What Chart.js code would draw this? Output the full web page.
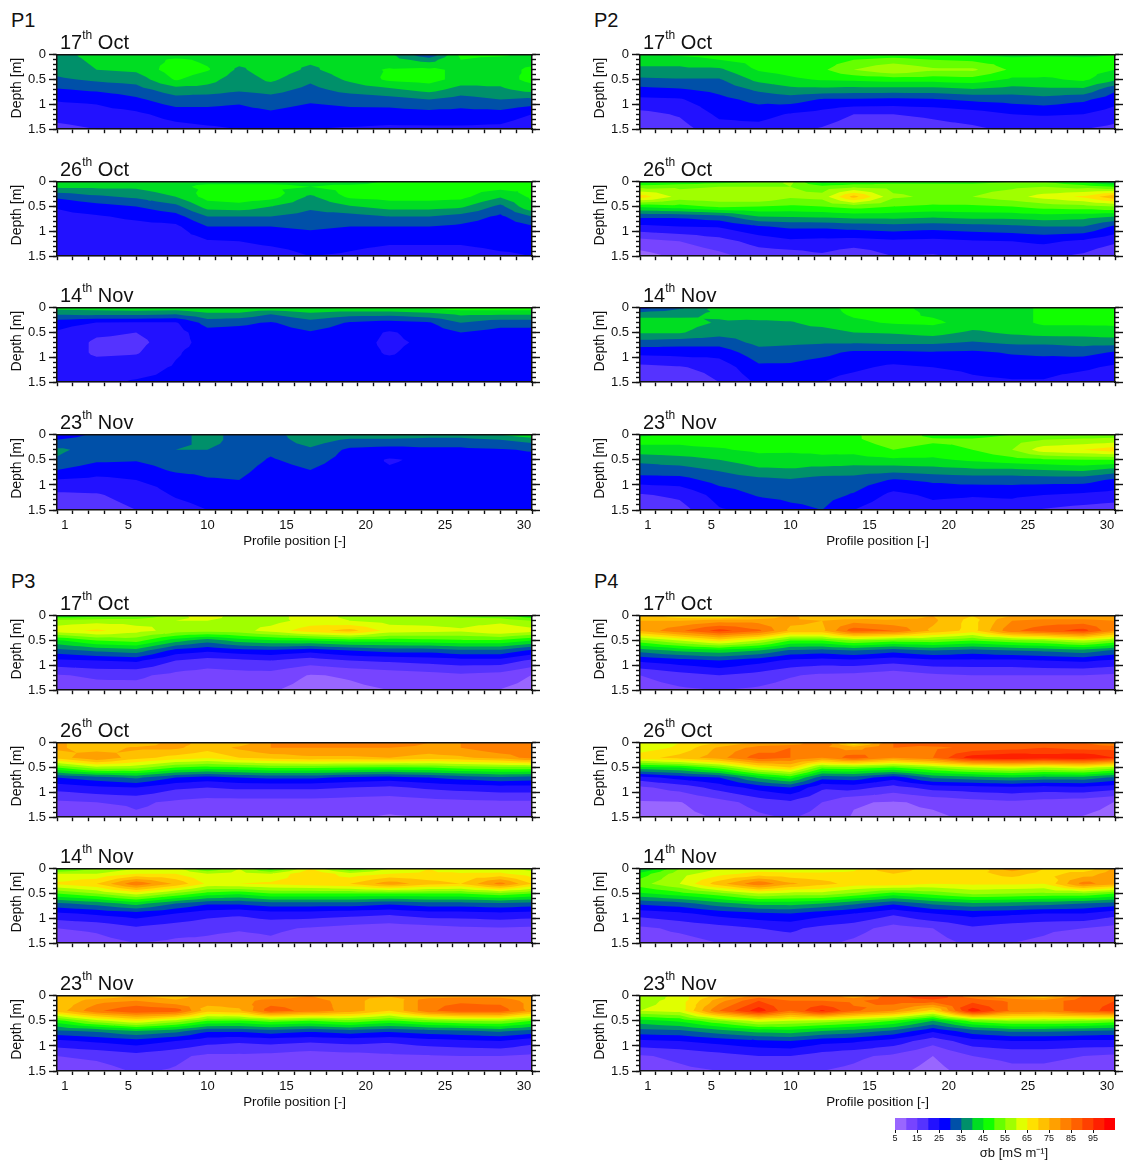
<!DOCTYPE html>
<html>
<head>
<meta charset="utf-8">
<title>Bulk conductivity profiles</title>
<script src="https://cdn.jsdelivr.net/npm/chart.js@4"></script>
<style>
  html, body { margin: 0; padding: 0; background: #fff; }
  body { position: relative; width: 1123px; height: 1164px; overflow: hidden; font-family: "Liberation Sans", Arial, sans-serif; color: #111; }
  canvas { position: absolute; }
  .site { position: absolute; font-size: 20px; line-height: 20px; }
  .date { position: absolute; font-size: 20px; line-height: 20px; white-space: nowrap; }
  .date sup { font-size: 12px; line-height: 0; position: relative; top: -2px; vertical-align: super; }
</style>
</head>
<body>
<script>
// profile positions and depths of the grid columns / rows
const positions = [0.5, 3, 5.5, 8, 10, 12, 14, 16.5, 19, 21.5, 24, 26, 28.5, 30.5];
const depths = [0, 0.1, 0.3, 0.5, 0.7, 0.9, 1.2, 1.5];
const levels = [5, 10, 15, 20, 25, 30, 35, 40, 45, 50, 55, 60, 65, 70, 75, 80, 85, 90, 95, 100];
const levelColors = ['#9966ff', '#7744ff', '#5533ff', '#2211ff', '#0000ff', '#0050a8', '#00906a', '#00dd22', '#11ff00', '#66ff00',
  '#a0ff00', '#e0ff00', '#ffe000', '#ffc000', '#ffa000', '#ff8000', '#ff6000', '#ff4000', '#ff2000', '#ff0000'];
const xLabelTicks = [1, 5, 10, 15, 20, 25, 30];
const depthTicks = [0, 0.5, 1, 1.5];
const legendTicks = [5, 15, 25, 35, 45, 55, 65, 75, 85, 95];
const dates = [['17', 'Oct'], ['26', 'Oct'], ['14', 'Nov'], ['23', 'Nov']];

// one line per profile position, values per depth (mS/m)
const p1_17oct = [
  [38, 38, 37, 34, 29.5, 25.5, 22, 18.5],
  [42, 41, 40, 36, 31, 26, 23, 20],
  [42, 42, 41, 37, 33, 29, 24, 21],
  [42, 46, 48, 45.5, 38, 33, 27, 23],
  [42, 44, 45.5, 42, 38, 32, 28, 24],
  [42, 42, 39, 37, 36, 31, 28, 25],
  [42, 42, 43, 41, 37, 33, 29, 26],
  [42, 41, 39, 36, 33.5, 31, 27, 25],
  [42, 42, 43, 41, 37, 32, 28, 24.5],
  [41, 42, 45.5, 46, 39, 33, 27.5, 24],
  [31, 38, 46, 47, 42, 35, 28, 24],
  [46, 45, 44, 43, 38, 33, 28, 24],
  [46, 43, 43, 42, 39, 35, 28, 23.5],
  [43, 43, 46, 47, 42, 34, 25, 21]
];
const p1_26oct = [
  [44, 41, 31, 25.5, 23.5, 22, 21, 20],
  [44, 41, 34, 28, 24.5, 23, 22, 21],
  [44, 41, 36, 30, 26, 23.5, 22, 21],
  [44, 44, 40, 33.5, 28, 24, 22, 21],
  [44, 46, 47, 42, 35, 30, 24.5, 22],
  [44, 46, 48, 43, 35, 30, 25, 22.5],
  [44, 46, 47, 40, 35, 30, 26, 23],
  [44, 45, 39, 36, 33, 31, 27, 25],
  [42, 47, 46, 39.5, 33, 30, 26, 24.5],
  [46, 47, 47, 42, 35, 30, 25.5, 23.5],
  [46, 47, 47, 42, 35, 30, 25.5, 23.5],
  [47, 47, 46.5, 41, 33, 29, 25.5, 23.5],
  [47, 47, 40.5, 33.5, 29, 27, 26, 24.5],
  [46, 46, 46, 44.5, 35, 29.5, 26, 25]
];
const p1_14nov = [
  [42, 37, 27, 24.5, 24, 24, 24, 24],
  [42, 38, 24.9, 21, 19, 19, 22.5, 24],
  [43, 38, 24.5, 20, 18.5, 19.5, 23, 25.5],
  [43, 37, 24.5, 23, 23, 24.5, 25.5, 26],
  [44, 40, 32, 28, 27, 27, 27, 27],
  [44, 40, 31, 28, 27, 27, 27, 27],
  [45, 36, 29.5, 27.5, 27, 27, 27, 27],
  [45, 40, 33, 29.5, 27, 27, 27, 27],
  [46, 38, 29.5, 27.5, 27, 27, 27, 27],
  [46, 38, 28, 24.5, 24, 24.5, 27, 27],
  [46, 40, 29.5, 27, 26, 27, 27, 27],
  [48, 42, 35, 30, 27.5, 27, 27, 27],
  [48, 42, 32, 28, 27, 27, 27, 27],
  [48, 42, 32, 28, 27, 27, 27, 27]
];
const p1_23nov = [
  [27, 30, 36, 34.5, 30, 24.8, 19, 17],
  [31, 32, 33, 31, 27, 24, 19.5, 17.5],
  [32, 32, 32, 30.5, 27, 25, 22, 20],
  [33, 33, 35, 33, 31, 27, 25.5, 23],
  [37, 37, 35, 33, 31.5, 29.5, 27, 25],
  [33, 33, 33, 32.5, 31.5, 30, 27, 26],
  [32, 32, 31, 29.5, 28, 27, 27, 27],
  [40, 38, 34, 32, 30, 28, 27, 27],
  [39, 34, 29, 28, 27, 27, 27, 27],
  [39, 34, 28, 24.5, 25.5, 27, 27, 27],
  [38, 33, 29, 26, 26.5, 27, 27, 27],
  [38, 33, 29, 27.5, 27, 27, 27, 27],
  [40, 35, 29.5, 27.5, 27, 27, 27, 27],
  [44, 37, 30.5, 28, 27, 27, 27, 27]
];
const p2_17oct = [
  [42, 42, 39, 34, 28.5, 24, 18.5, 16.5],
  [46, 42, 39, 34.5, 29.5, 24.5, 20.5, 18],
  [47, 45, 39, 34.5, 31.5, 28.5, 26, 23],
  [47, 47, 45.5, 41.5, 36, 31.5, 27, 23],
  [47, 47, 47, 44, 38.5, 32.5, 24.5, 21],
  [45, 47, 49, 45.5, 38.5, 29.5, 23, 19.5],
  [46, 50, 55, 46, 38, 29.5, 20, 17],
  [47, 52, 60, 47, 38, 29, 20, 16.5],
  [46, 50, 56, 47, 38, 29.5, 21, 18],
  [44, 49, 56, 48, 39.5, 31, 22.5, 19],
  [43, 47, 49, 44, 38, 32, 25, 21],
  [44, 47, 48, 44, 39, 33, 25.5, 20.5],
  [44, 46, 47, 46, 39, 31, 25, 20],
  [45, 46, 45, 41, 31, 27, 22.5, 18.5]
];
const p2_26oct = [
  [43, 53, 68, 46, 31, 24, 13, 8],
  [46, 54, 58, 48, 31, 25, 15, 11],
  [48, 55, 59, 51, 33, 25.5, 18, 13.5],
  [50, 55, 60, 50, 40, 29.5, 22, 17],
  [56, 55, 56, 49, 40.5, 31, 24, 17],
  [42, 52, 57, 50, 41, 31, 23.5, 19],
  [46, 54, 72, 52, 42, 32, 23, 16],
  [48, 53, 56, 50, 42, 33, 24, 20],
  [48, 53, 54, 49, 41, 32, 23.5, 19.5],
  [48, 53, 55, 49, 42, 33, 24.5, 21],
  [50, 54, 58, 50, 42, 34, 25, 21],
  [50, 55, 62, 52, 43, 35, 26, 21],
  [44, 53, 66, 53, 42, 35, 24, 19],
  [38, 50, 74, 55, 40, 29, 21, 15]
];
const p2_14nov = [
  [28, 36, 44, 40.5, 33, 26.5, 18.5, 16],
  [34, 38, 42, 40.5, 32, 27, 19.5, 16],
  [42, 41, 39.5, 37, 32, 27, 22, 20],
  [44, 43, 39, 37, 36.5, 33, 29, 26],
  [44, 43, 39.5, 38, 36, 32.5, 29, 25.5],
  [44, 43, 42, 37.5, 35.5, 31.5, 27, 25],
  [46, 46, 44, 40, 35.5, 29, 26, 23],
  [47, 47, 45.5, 40.5, 36, 29, 24, 21],
  [43, 44, 46, 42, 36, 29.5, 25, 22],
  [42, 42, 43, 39, 34.5, 29, 26, 24],
  [43, 43, 43, 41, 36, 30.5, 27, 24.5],
  [46, 46, 46, 42, 36, 31, 27, 24.5],
  [46, 46, 46, 42, 37, 31.5, 26, 22],
  [46, 46, 46, 43, 37, 29.5, 24, 21]
];
const p2_23nov = [
  [44, 47, 43, 36, 33, 27.5, 19.5, 16],
  [47, 46, 44, 37.5, 33, 28, 21, 18],
  [47, 47, 44.5, 40, 35.5, 32, 27, 24.5],
  [47, 47, 46, 43, 39, 33.5, 30.5, 26],
  [47, 47, 46, 42.5, 39.5, 34.5, 31.5, 28.5],
  [47, 48, 46, 44, 38, 33, 32, 30],
  [49, 49, 46.5, 43, 37.5, 33, 29.5, 25],
  [55, 53, 50, 44, 37, 29.5, 23.5, 20.5],
  [48, 51, 48, 44, 38, 31, 26, 23],
  [47, 51, 50, 46, 39, 32, 25.5, 22],
  [50, 53, 55, 48, 39, 32, 26, 22],
  [51, 55, 63, 49, 40, 32, 25, 19.5],
  [52, 56, 65, 50, 41, 32, 24, 18],
  [52, 57, 68, 50, 38, 29, 23, 17]
];
const p3_17oct = [
  [46, 57, 63, 44, 33, 24, 14.5, 11],
  [48, 58, 66, 50, 36, 25, 16, 12.5],
  [50, 58, 62, 52, 38, 26, 16, 13],
  [57, 60, 58, 42, 28, 20, 13.5, 11.5],
  [65, 60, 57, 37, 26, 18, 12.5, 11],
  [55, 58, 58, 42, 28, 19, 13, 11],
  [56, 58, 62, 44, 29, 20, 13, 10.5],
  [65, 62, 68, 45, 27, 17.5, 9.7, 8],
  [58, 60, 72, 47, 30, 20, 10.5, 9],
  [56, 58, 63, 47, 32, 21, 12, 10],
  [55, 58, 62, 48, 32, 22, 13, 10.5],
  [54, 57, 61, 49, 34, 23, 14, 11],
  [52, 58, 65, 49, 34, 23, 13, 9.8],
  [46, 55, 62, 45, 29, 19, 9.9, 8]
];
const p3_26oct = [
  [76, 76, 72, 50, 30, 22, 14, 10],
  [72, 72, 80, 58, 33, 24, 15, 11],
  [70, 76, 72, 57, 36, 25, 16, 14],
  [78, 76, 68, 50, 30, 21, 14, 13],
  [72, 72, 66, 48, 28, 20, 13, 11],
  [72, 76, 70, 49, 30, 21, 13, 11],
  [80, 80, 72, 51, 31, 21, 13, 10],
  [80, 80, 74, 51, 31, 21, 13, 10.5],
  [82, 80, 74, 50, 29, 20, 12.5, 10.5],
  [85, 80, 75, 49, 28, 19, 12, 9.5],
  [80, 78, 73, 50, 30, 21, 13, 10],
  [80, 80, 74, 52, 32, 22, 13.5, 11],
  [84, 84, 77, 53, 34, 23, 14, 11],
  [85, 84, 82, 53, 33, 23, 14, 11]
];
const p3_14nov = [
  [48, 60, 66, 50, 34, 24, 15, 11],
  [55, 60, 70, 55, 37, 26, 16, 13],
  [60, 65, 84, 62, 42, 28, 19, 15],
  [62, 65, 74, 54, 35, 25, 17, 14],
  [50, 60, 64, 48, 31, 22, 16, 14],
  [60, 62, 65, 46, 31, 21, 15.5, 13],
  [48, 60, 66, 50, 33, 23, 16, 14],
  [65, 70, 68, 50, 33, 23, 14.5, 12],
  [50, 62, 70, 50, 33, 22, 13, 11],
  [60, 65, 78, 50, 31, 21, 12, 10.5],
  [65, 66, 72, 50, 33, 23, 13, 11],
  [60, 66, 70, 50, 33, 23, 14, 12],
  [62, 66, 82, 53, 34, 24, 14.5, 12.5],
  [58, 62, 70, 50, 33, 23, 14, 12]
];
const p3_23nov = [
  [72, 70, 72, 48, 34, 24, 15, 12],
  [70, 78, 84, 58, 36, 26, 16, 13],
  [75, 80, 90, 65, 40, 28, 18, 15.5],
  [72, 76, 88, 58, 37, 25, 16, 14.5],
  [78, 78, 72, 50, 31, 22, 14, 12.5],
  [78, 78, 74, 49, 31, 21, 14, 11.5],
  [76, 82, 88, 52, 33, 22, 13.5, 11],
  [80, 82, 83, 50, 31, 21, 12, 10.5],
  [76, 78, 78, 53, 33, 22, 13, 11.5],
  [76, 70, 70, 49, 31, 21, 14, 12],
  [76, 84, 84, 53, 33, 23, 14.5, 13],
  [78, 84, 88, 55, 34, 24, 15, 13],
  [78, 83, 88, 56, 36, 25, 15, 12],
  [76, 78, 78, 50, 33, 22, 14, 11]
];
const p4_17oct = [
  [75, 75, 76, 53, 37, 26, 15, 12],
  [66, 75, 84, 60, 41, 28, 18, 14],
  [62, 78, 92, 67, 43, 30, 20, 15],
  [70, 78, 86, 60, 40, 27, 18, 14],
  [76, 76, 74, 50, 34, 24, 15.5, 12.5],
  [70, 75, 74, 50, 33, 23, 14, 11.5],
  [68, 78, 88, 55, 35, 24, 13.5, 11],
  [72, 76, 85, 52, 32, 22, 12, 10.5],
  [75, 76, 74, 53, 35, 24, 14, 11],
  [70, 68, 68, 50, 33, 24, 15, 12],
  [75, 80, 84, 53, 35, 24, 15, 12.5],
  [75, 82, 88, 55, 36, 25, 15, 13],
  [75, 82, 92, 60, 38, 26, 15, 13],
  [75, 80, 80, 54, 34, 24, 14, 12]
];
const p4_26oct = [
  [60, 62, 68, 43, 23, 14, 9.5, 8.5],
  [65, 66, 72, 45, 27, 17, 9.8, 8.5],
  [70, 76, 78, 52, 30, 22, 13, 10.5],
  [76, 82, 88, 65, 41, 27, 17, 14],
  [76, 85, 85, 70, 47, 30, 19, 15.5],
  [85, 82, 80, 52, 32, 21, 15, 13],
  [64, 78, 88, 53, 33, 22, 10.5, 9.5],
  [85, 85, 80, 50, 27, 18, 9.5, 8.5],
  [88, 84, 85, 55, 36, 22, 11, 9],
  [88, 86, 98, 60, 38, 23, 13, 11],
  [86, 88, 100, 62, 40, 24, 14, 12],
  [88, 90, 98, 60, 38, 23, 13, 11],
  [85, 88, 100, 62, 38, 24, 12, 9.8],
  [80, 88, 95, 57, 34, 22, 9.9, 8.5]
];
const p4_14nov = [
  [38, 47, 53, 44, 31, 22, 14, 12],
  [55, 58, 60, 48, 33, 24, 16, 13],
  [60, 63, 73, 53, 38, 27, 18, 15],
  [62, 67, 84, 60, 42, 29, 20, 16.5],
  [62, 66, 76, 58, 42, 30, 21, 17.5],
  [62, 66, 72, 58, 40, 27, 18.5, 16],
  [64, 66, 68, 54, 36, 25, 17, 14],
  [75, 70, 68, 48, 31, 21, 13, 10.5],
  [66, 66, 65, 52, 36, 25, 15, 13],
  [65, 68, 66, 56, 39, 27, 19, 16],
  [78, 72, 66, 55, 38, 26, 17, 15],
  [70, 68, 65, 54, 37, 25, 16, 14],
  [66, 72, 82, 54, 35, 25, 15, 11],
  [76, 78, 77, 50, 33, 22, 13, 11]
];
const p4_23nov = [
  [55, 58, 60, 43, 33, 24, 14.5, 12.5],
  [62, 62, 62, 46, 34, 25, 16, 14],
  [72, 78, 85, 54, 38, 27, 18, 15],
  [82, 90, 98, 62, 42, 29, 20, 16.5],
  [80, 85, 85, 60, 43, 30, 20, 16.5],
  [85, 85, 96, 58, 40, 27, 17.5, 15],
  [76, 84, 86, 55, 38, 26, 16, 14],
  [88, 88, 80, 50, 34, 23, 14, 11.5],
  [95, 88, 68, 40, 26, 17, 10, 8],
  [82, 88, 98, 52, 33, 23, 15, 12.5],
  [74, 84, 84, 56, 36, 25, 16, 14],
  [70, 82, 82, 56, 36, 25, 16, 14],
  [85, 88, 88, 55, 35, 24, 15, 13],
  [88, 90, 92, 53, 34, 24, 14, 11]
];

const sites = [
  { name: 'P1', left: 57, nameTop: 10, tops: [54, 181, 307, 434], grids: [p1_17oct, p1_26oct, p1_14nov, p1_23nov] },
  { name: 'P2', left: 640, nameTop: 10, tops: [54, 181, 307, 434], grids: [p2_17oct, p2_26oct, p2_14nov, p2_23nov] },
  { name: 'P3', left: 57, nameTop: 571, tops: [615, 742, 868, 995], grids: [p3_17oct, p3_26oct, p3_14nov, p3_23nov] },
  { name: 'P4', left: 640, nameTop: 571, tops: [615, 742, 868, 995], grids: [p4_17oct, p4_26oct, p4_14nov, p4_23nov] }
];

const plotW = 475, plotH = 76;
const fontFamily = '"Liberation Sans", Arial, sans-serif';
const axisFont = { family: fontFamily, size: 13 };
const ink = '#111';

Chart.defaults.plugins.legend.display = false;
Chart.defaults.plugins.tooltip.enabled = false;
Chart.defaults.animation = false;
Chart.defaults.color = ink;

function clipAbove(tri, level) {
  const out = [];
  for (let i = 0; i < tri.length; i++) {
    const a = tri[i], b = tri[(i + 1) % tri.length];
    if (a.v >= level) out.push(a);
    if ((a.v >= level) !== (b.v >= level)) {
      const t = (level - a.v) / (b.v - a.v);
      out.push({ px: a.px + t * (b.px - a.px), py: a.py + t * (b.py - a.py), v: level });
    }
  }
  return out;
}

// filled contour bands, painted lowest level first
const contourBands = {
  id: 'contourBands',
  beforeDatasetsDraw(chart) {
    const { ctx, chartArea, scales } = chart;
    const pts = chart.data.datasets[0].data;
    const nx = positions.length, ny = depths.length;
    const node = (i, j) => {
      const p = pts[i * ny + j];
      return { px: scales.x.getPixelForValue(p.x), py: scales.y.getPixelForValue(p.y), v: p.v };
    };
    const tris = [];
    for (let i = 0; i < nx - 1; i++) {
      for (let j = 0; j < ny - 1; j++) {
        const a = node(i, j), b = node(i + 1, j), c = node(i + 1, j + 1), d = node(i, j + 1);
        const m = { px: (a.px + b.px + c.px + d.px) / 4, py: (a.py + b.py + c.py + d.py) / 4, v: (a.v + b.v + c.v + d.v) / 4 };
        tris.push([m, a, b], [m, b, c], [m, c, d], [m, d, a]);
      }
    }
    ctx.save();
    ctx.beginPath();
    ctx.rect(chartArea.left, chartArea.top, chartArea.width, chartArea.height);
    ctx.clip();
    ctx.fillStyle = levelColors[0];
    ctx.fillRect(chartArea.left, chartArea.top, chartArea.width, chartArea.height);
    for (let k = 1; k < levels.length; k++) {
      ctx.beginPath();
      tris.forEach(tri => {
        const poly = clipAbove(tri, levels[k]);
        if (poly.length < 3) return;
        ctx.moveTo(poly[0].px, poly[0].py);
        for (let n = 1; n < poly.length; n++) ctx.lineTo(poly[n].px, poly[n].py);
        ctx.closePath();
      });
      ctx.fillStyle = levelColors[k];
      ctx.fill();
    }
    ctx.restore();
  }
};

function fixedSize(prop, size) {
  return scale => { scale[prop] = size; };
}

function setTicks(values) {
  return scale => { scale.ticks = values.map(value => ({ value })); };
}

function panelChart(site, grid, index) {
  const withLabels = index === 3;
  const top = site.tops[index];
  const canvas = document.createElement('canvas');
  canvas.width = 57 + plotW + 10;
  canvas.height = 10 + plotH + (withLabels ? 44 : 10);
  canvas.style.left = (site.left - 57) + 'px';
  canvas.style.top = (top - 10) + 'px';
  document.body.appendChild(canvas);

  const points = [];
  positions.forEach((x, i) => depths.forEach((y, j) => points.push({ x, y, v: grid[i][j] })));

  const tickGrid = len => ({ drawOnChartArea: false, tickLength: len, tickColor: ink, tickWidth: 1.4 });
  const edge = { color: ink, width: 1.5, z: 1 };
  const scales = {
    x: {
      type: 'linear', min: 0.5, max: 30.5, position: 'bottom', weight: 0,
      ticks: { stepSize: 1, display: false }, grid: tickGrid(4), border: edge,
      afterFit: fixedSize('height', withLabels ? 4 : 10)
    },
    xTop: {
      type: 'linear', min: 0.5, max: 30.5, position: 'top',
      ticks: { display: false }, grid: { display: false }, border: edge,
      afterFit: fixedSize('height', 10)
    },
    y: {
      type: 'linear', reverse: true, min: 0, max: 1.5, position: 'left', weight: 1,
      ticks: { font: axisFont, padding: 3, callback: v => String(v), autoSkip: false },
      grid: tickGrid(8), border: edge,
      afterBuildTicks: setTicks(depthTicks),
      // the leading spaces lift the title a little above the middle of the axis, as in the source
      title: { display: true, text: '  Depth [m]', font: { family: fontFamily, size: 14 }, padding: { top: 9, bottom: 0 } },
      afterFit: fixedSize('width', 57)
    },
    yMinor: {
      type: 'linear', reverse: true, min: 0, max: 1.5, position: 'left', weight: 0,
      ticks: { stepSize: 0.1, display: false }, grid: tickGrid(4), border: { display: false },
      afterFit: fixedSize('width', 0)
    },
    yRight: {
      type: 'linear', reverse: true, min: 0, max: 1.5, position: 'right', weight: 1,
      ticks: { display: false }, grid: tickGrid(8), border: edge,
      afterBuildTicks: setTicks(depthTicks),
      afterFit: fixedSize('width', 10)
    },
    yRightMinor: {
      type: 'linear', reverse: true, min: 0, max: 1.5, position: 'right', weight: 0,
      ticks: { stepSize: 0.1, display: false }, grid: tickGrid(4), border: { display: false },
      afterFit: fixedSize('width', 0)
    }
  };
  if (withLabels) {
    scales.xLabels = {
      type: 'linear', min: 0.5, max: 30.5, position: 'bottom', weight: 1,
      ticks: { font: axisFont, padding: 4, autoSkip: false, maxRotation: 0 },
      grid: { display: false, drawTicks: false }, border: { display: false },
      afterBuildTicks: setTicks(xLabelTicks),
      title: { display: true, text: 'Profile position [-]', font: { family: fontFamily, size: 13.3 }, padding: { top: 0, bottom: 5 } },
      afterFit: fixedSize('height', 40)
    };
  }

  new Chart(canvas, {
    type: 'scatter',
    data: { datasets: [{ data: points, pointRadius: 0, showLine: false }] },
    options: { responsive: false, layout: { padding: 0 }, scales },
    plugins: [contourBands]
  });

  const label = document.createElement('div');
  label.className = 'date';
  label.style.left = (site.left + 3) + 'px';
  label.style.top = (top - 22) + 'px';
  label.innerHTML = dates[index][0] + '<sup>th</sup> ' + dates[index][1];
  document.body.appendChild(label);
}

sites.forEach(site => {
  const name = document.createElement('div');
  name.className = 'site';
  name.textContent = site.name;
  name.style.left = (site.left - 46) + 'px';
  name.style.top = site.nameTop + 'px';
  document.body.appendChild(name);
  site.grids.forEach((grid, i) => panelChart(site, grid, i));
});

// colour key
const keyCanvas = document.createElement('canvas');
keyCanvas.width = 260;
keyCanvas.height = 50;
keyCanvas.style.left = '875px';
keyCanvas.style.top = '1114px';
document.body.appendChild(keyCanvas);
new Chart(keyCanvas, {
  type: 'bar',
  data: {
    labels: ['key'],
    datasets: levels.map((l, i) => ({ data: [[l, l + 5]], backgroundColor: levelColors[i], grouped: false, barPercentage: 1, categoryPercentage: 1 }))
  },
  options: {
    indexAxis: 'y',
    responsive: false,
    layout: { padding: { left: 20, right: 20, top: 4 } },
    scales: {
      x: {
        type: 'linear', min: 5, max: 105,
        ticks: { font: { family: fontFamily, size: 9 }, padding: 0, autoSkip: false, maxRotation: 0 },
        grid: { drawOnChartArea: false, tickLength: 3, tickColor: ink }, border: { display: false },
        afterBuildTicks: setTicks(legendTicks),
        title: { display: true, text: '     σb [mS m⁻¹]', font: { family: fontFamily, size: 13 }, padding: { top: 0, bottom: 3 } },
        afterFit: fixedSize('height', 34)
      },
      y: { display: false }
    }
  }
});
</script>
</body>
</html>
